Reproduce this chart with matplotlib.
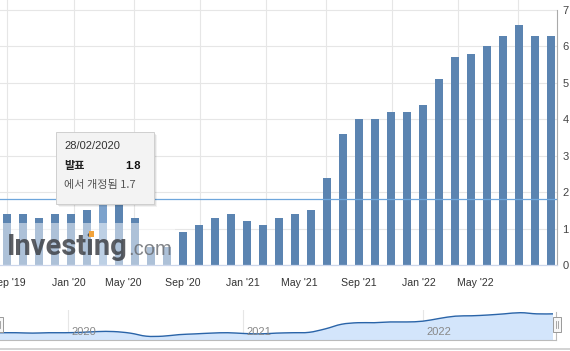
import numpy as np
import matplotlib
matplotlib.use("Agg")
import matplotlib.pyplot as plt
from matplotlib.patches import Rectangle, PathPatch
from matplotlib.path import Path

# ---------------- data ----------------
months = ["Sep '19", "Oct '19", "Nov '19", "Dec '19", "Jan '20", "Feb '20", "Mar '20",
          "Apr '20", "May '20", "Jun '20", "Jul '20", "Aug '20", "Sep '20", "Oct '20",
          "Nov '20", "Dec '20", "Jan '21", "Feb '21", "Mar '21", "Apr '21", "May '21",
          "Jun '21", "Jul '21", "Aug '21", "Sep '21", "Oct '21", "Nov '21", "Dec '21",
          "Jan '22", "Feb '22", "Mar '22", "Apr '22", "May '22", "Jun '22", "Jul '22"]
values = [1.4, 1.4, 1.3, 1.4, 1.4, 1.5, 1.7, 1.7, 1.3, 0.5, 0.5, 0.9, 1.1, 1.3,
          1.4, 1.2, 1.1, 1.3, 1.4, 1.5, 2.4, 3.6, 4.0, 4.0, 4.2, 4.2, 4.4, 5.1,
          5.7, 5.8, 6.0, 6.3, 6.6, 6.3, 6.3]
tick_labels = ["Sep '19", "Jan '20", "May '20", "Sep '20", "Jan '21",
               "May '21", "Sep '21", "Jan '22", "May '22"]
nav_years = ["2020", "2021", "2022"]
reference_level = 1.8
hover_index = 6
tooltip_date = "28/02/2020"
tooltip_actual = "1.8"
tooltip_revised = "1.7"

# ---------------- layout helpers ----------------
W, H = 570, 351
fig = plt.figure(figsize=(W / 100, H / 100), dpi=100)
fig.patch.set_facecolor("white")
LAT = ["Liberation Sans", "DejaVu Sans"]
KOR = ["Noto Sans CJK KR", "DejaVu Sans"]


def fx(px):
    return px / W


def fy(py):
    return 1 - py / H


BAR = "#5b84b1"
GRID = "#e6e6e6"

# ---------------- main chart ----------------
ax = fig.add_axes([0, fy(265), fx(557), (265 - 0) / H])
x = np.arange(len(values))
colors = [BAR] * len(values)
colors[hover_index] = "#7ca2cc"
ax.bar(x, values, width=0.5, color=colors, zorder=2, linewidth=0)
ax.axhline(reference_level, color="#6ea6dc", lw=0.9, zorder=3)

ax.set_xlim(-0.4375, 34.375)
ax.set_ylim(0, 7 * 265 / 255)

grid_pos = [0.02, 4.19, 7.94, 12.08, 16.19, 19.94, 24.08, 28.17, 31.92]
label_pos = [0.05, 3.875, 7.25, 11.0, 14.75, 18.25, 22.0, 25.75, 29.25]
ax.set_xticks(grid_pos)
ax.set_xticklabels([""] * len(grid_pos))
ax.set_xticks(label_pos, minor=True)
ax.set_xticklabels(tick_labels, minor=True, fontsize=7.6, color="#333333", family=LAT)
ax.tick_params(axis="x", which="both", length=0, pad=9)
ax.grid(axis="x", which="major", color=GRID, lw=0.8, zorder=0)

ax.yaxis.tick_right()
ax.set_yticks(range(0, 8))
ax.set_yticklabels([str(v) for v in range(0, 8)], fontsize=8, color="#444444", family=LAT)
ax.tick_params(axis="y", length=0, pad=4)
ax.grid(axis="y", color=GRID, lw=0.8, zorder=0)
ax.set_axisbelow(True)

for s in ["top", "left"]:
    ax.spines[s].set_visible(False)
ax.spines["bottom"].set_color("#ccd6eb")
ax.spines["bottom"].set_linewidth(0.9)
ax.spines["right"].set_color("#aaaaaa")
ax.spines["right"].set_linewidth(0.8)
ax.spines["right"].set_bounds(0, 7)

# watermark overlay
fig.add_artist(Rectangle((fx(0), fy(265)), fx(175), (265 - 223) / H,
                         transform=fig.transFigure, facecolor="white",
                         alpha=0.5, edgecolor="none", zorder=5))
fig.text(fx(7), fy(255), "Investing", family=["Roboto", "DejaVu Sans"],
         fontweight="bold", fontsize=21, color="#3f4248", alpha=0.85,
         ha="left", va="baseline", zorder=6)
fig.text(fx(128), fy(255), ".com", family=LAT, fontsize=14.5,
         color="#6b6e73", alpha=0.85, ha="left", va="baseline", zorder=6)
fig.add_artist(Rectangle((fx(89), fy(237)), fx(5), 6 / H, transform=fig.transFigure,
                         facecolor="#f2a33a", edgecolor="none", zorder=7))

# tooltip
for k, a in [(3, 0.05), (2, 0.08), (1, 0.12)]:
    fig.add_artist(Rectangle((fx(56 + k), fy(204 + k)), fx(98), 72 / H,
                             transform=fig.transFigure, facecolor="#000000",
                             alpha=a, edgecolor="none", zorder=8))
fig.add_artist(Rectangle((fx(56), fy(204)), fx(98), 72 / H, transform=fig.transFigure,
                         facecolor="#f3f3f3", edgecolor="#cfcfcf", lw=0.7, zorder=9))
fig.text(fx(64), fy(146.5), tooltip_date, family=LAT, fontsize=8, color="#333333",
         ha="left", va="center", zorder=10)
fig.text(fx(64), fy(166), "발표", family=KOR, fontsize=8, fontweight="bold",
         color="#222222", ha="left", va="center", zorder=10)
fig.text(fx(141), fy(166), tooltip_actual, family=LAT, fontsize=8, fontweight="bold",
         color="#111111", ha="right", va="center", zorder=10)
fig.text(fx(64), fy(185), "에서 개정됨 " + tooltip_revised, family=KOR, fontsize=8,
         color="#555555", ha="left", va="center", zorder=10)

# ---------------- navigator ----------------
nav = fig.add_axes([0, fy(340), fx(557), 30 / H])
nav.set_xlim(0, 34 * 557 / 553)
ymin = -0.49
nav.set_ylim(ymin, 7.3)
nav.axis("off")

pts = np.column_stack([x, values]).astype(float)
verts = [tuple(pts[0])]
codes = [Path.MOVETO]
n = len(pts)
for i in range(n - 1):
    p0 = pts[max(i - 1, 0)]
    p1 = pts[i]
    p2 = pts[i + 1]
    p3 = pts[min(i + 2, n - 1)]
    c1 = p1 + (p2 - p0) / 6.0
    c2 = p2 - (p3 - p1) / 6.0
    verts += [tuple(c1), tuple(c2), tuple(p2)]
    codes += [Path.CURVE4] * 3
line_path = Path(verts, codes)
fill_verts = verts + [(pts[-1][0], ymin), (pts[0][0], ymin), verts[0]]
fill_codes = codes + [Path.LINETO, Path.LINETO, Path.CLOSEPOLY]
nav.add_patch(PathPatch(Path(fill_verts, fill_codes), facecolor="#d3e5fb",
                        edgecolor="none", zorder=2))
nav.add_patch(PathPatch(line_path, facecolor="none", edgecolor="#2a64a8", lw=1.0, zorder=3))

year_pos = [4.18, 14.94, 26.01]
for p, lab in zip(year_pos, nav_years):
    nav.axvline(p, color=GRID, lw=0.8, zorder=1)
    nav.text(p + 0.22, 0.27, lab, transform=nav.get_xaxis_transform(), fontsize=8,
             color="#888888", family=LAT, ha="left", va="center", zorder=4)

# navigator outline, handles, scrollbar line
fig.add_artist(plt.Line2D([fx(0), fx(556)], [fy(340), fy(340)], color="#bbbbbb", lw=0.8,
                          transform=fig.transFigure, zorder=5))
fig.add_artist(plt.Line2D([fx(556), fx(556)], [fy(312), fy(340)], color="#bbbbbb", lw=0.8,
                          transform=fig.transFigure, zorder=5))
for hx in [-5, 553]:
    fig.add_artist(Rectangle((fx(hx), fy(332)), fx(8), 15 / H, transform=fig.transFigure,
                             facecolor="#f7f7f7", edgecolor="#999999", lw=0.7, zorder=6))
    for dx in [3, 5]:
        fig.add_artist(plt.Line2D([fx(hx + dx), fx(hx + dx)], [fy(321), fy(328)],
                                  color="#999999", lw=0.6, transform=fig.transFigure, zorder=7))
fig.add_artist(plt.Line2D([0, 1], [fy(348.5), fy(348.5)], color="#cccccc", lw=1.2,
                          transform=fig.transFigure, zorder=5))

fig.savefig("out.png", dpi=100, facecolor="white")
